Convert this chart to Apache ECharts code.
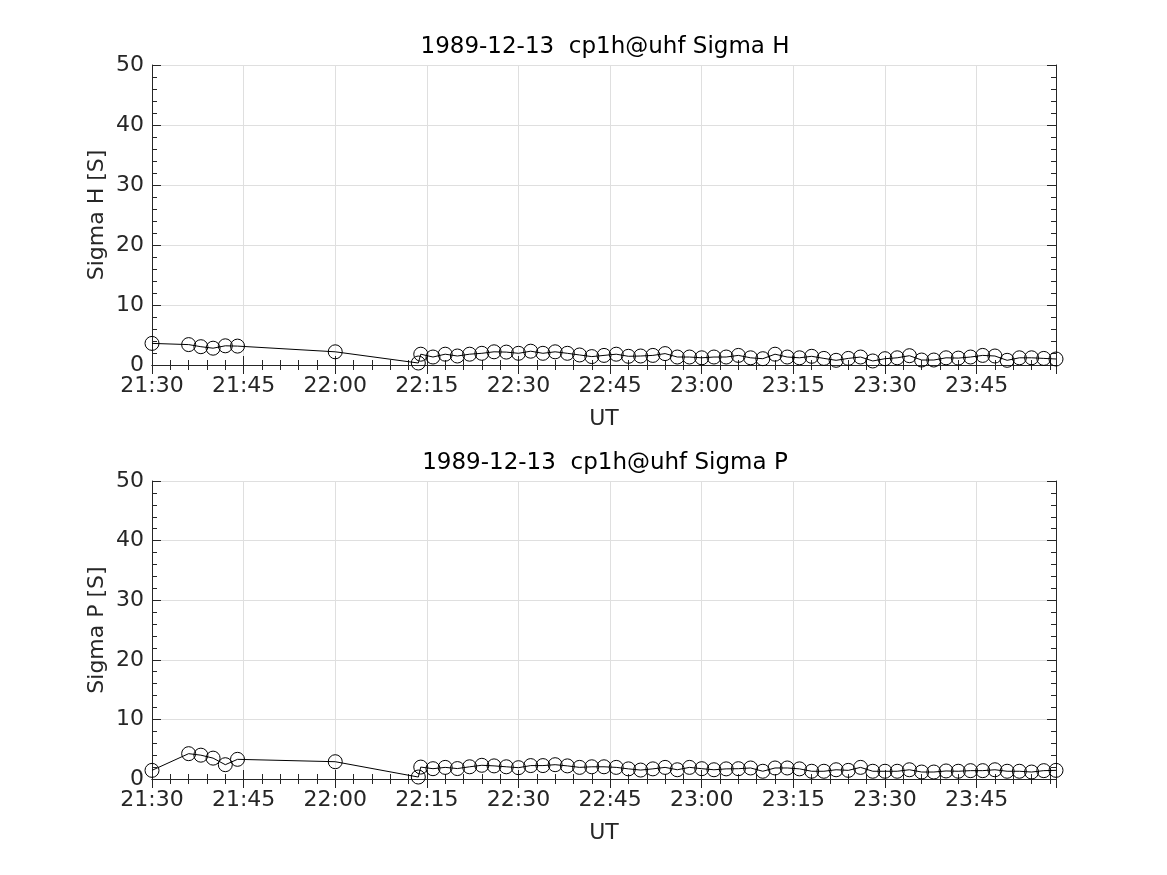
<!DOCTYPE html>
<html>
<head>
<meta charset="utf-8">
<script src="https://cdn.jsdelivr.net/npm/echarts@6/dist/echarts.min.js"></script>
<style>
html,body{margin:0;padding:0;background:#fff;}
#c{width:1167px;height:875px;}
</style>
</head>
<body>
<div id="c"></div>
<script>
// Times (UT) of each measurement
var times = ["21:30","21:36","21:38","21:40","21:42","21:44","22:00","22:13:36",
"22:14","22:16","22:18","22:20","22:22","22:24","22:26","22:28","22:30","22:32","22:34","22:36","22:38","22:40","22:42","22:44","22:46","22:48","22:50","22:52","22:54","22:56","22:58",
"23:00","23:02","23:04","23:06","23:08","23:10","23:12","23:14","23:16","23:18","23:20","23:22","23:24","23:26","23:28","23:30","23:32","23:34","23:36","23:38","23:40","23:42","23:44","23:46","23:48","23:50","23:52","23:54","23:56","23:58"];

var sigmaH = [3.6,3.4,3.05,2.8,3.2,3.15,2.2,0.33,
1.8,1.33,1.8,1.5,1.8,1.95,2.2,2.15,1.95,2.3,1.95,2.2,1.95,1.67,1.4,1.6,1.8,1.45,1.5,1.6,1.9,1.33,1.33,
1.2,1.33,1.33,1.6,1.2,1.05,1.8,1.33,1.2,1.45,1.1,0.78,1.1,1.33,0.67,1.05,1.2,1.55,0.83,0.83,1.2,1.15,1.33,1.6,1.5,0.78,1.2,1.2,1.1,1.0];

var sigmaP = [1.45,4.25,4.0,3.5,2.4,3.3,2.9,0.33,
2.0,1.73,1.95,1.75,2.05,2.3,2.2,2.05,1.9,2.25,2.25,2.4,2.2,1.95,2.05,2.05,1.95,1.7,1.5,1.7,1.95,1.55,1.95,
1.73,1.55,1.7,1.73,1.85,1.3,1.85,1.85,1.7,1.3,1.3,1.55,1.45,1.95,1.3,1.3,1.3,1.55,1.17,1.17,1.35,1.3,1.4,1.4,1.55,1.3,1.3,1.17,1.4,1.45];

var titles = ["1989-12-13  cp1h@uhf Sigma H", "1989-12-13  cp1h@uhf Sigma P"];
var yNames = ["Sigma H [S]", "Sigma P [S]"];
var xName = "UT";
var xMinTime = "21:30", xMaxTime = "23:58";
var xInterval = 15;
var yMin = 0, yMax = 50, yInterval = 10;

function toMin(s){ var p = s.split(":").map(Number); return p[0]*60 + p[1] + (p[2]||0)/60; }
function fmt(v){ var h = Math.floor(v/60), m = Math.round(v - h*60); return h + ":" + (m<10?"0":"") + m; }

var FONT = "DejaVu Sans";
var TXT = "#262626";
var grids = [
  {left:152, right:111, top:65, height:300},
  {left:152, right:111, top:481, height:298}
];

var xAxes = [], yAxes = [], series = [], titleArr = [], graphics = [];
var datasets = [sigmaH, sigmaP];
grids.forEach(function(g, i){
  titleArr.push({text: titles[i], left: 605, textAlign:'center', top: (i===0? 36 : 452), padding:0,
    textStyle:{fontFamily:FONT, fontSize:23, fontWeight:'normal', color:'#000'}});
  graphics.push({type:'text', x:97, y: g.top + g.height/2, rotation: Math.PI/2,
    style:{text: yNames[i], fontFamily:FONT, fontSize:22, fill:TXT, align:'center', verticalAlign:'middle'}});
  var common = {
    type:'value', gridIndex:i, min: toMin(xMinTime), max: toMin(xMaxTime), interval: xInterval,
    axisLine:{show:true, lineStyle:{color:TXT, width:1}},
    axisTick:{show:true, inside:true, length:9, lineStyle:{color:TXT}},
    minorTick:{show:true, splitNumber:5, length:5, lineStyle:{color:TXT}}
  };
  xAxes.push(Object.assign({}, common, {
    position:'bottom', name: xName, nameLocation:'middle', nameGap:43,
    nameTextStyle:{fontFamily:FONT, fontSize:22, color:TXT},
    axisLabel:{show:true, formatter: fmt, fontFamily:FONT, fontSize:22, color:TXT, margin:10, showMaxLabel:false},
    splitLine:{show:true, lineStyle:{color:'#dfdfdf', width:1}}
  }));
  xAxes.push(Object.assign({}, common, {
    position:'top', axisLabel:{show:false}, splitLine:{show:false}
  }));
  var ycommon = {
    type:'value', gridIndex:i, min:yMin, max:yMax, interval:yInterval,
    axisLine:{show:true, lineStyle:{color:TXT, width:1}},
    axisTick:{show:true, inside:true, length:9, lineStyle:{color:TXT}},
    minorTick:{show:true, splitNumber:5, length:5, lineStyle:{color:TXT}}
  };
  yAxes.push(Object.assign({}, ycommon, {
    position:'left',
    axisLabel:{show:true, fontFamily:FONT, fontSize:22, color:TXT, margin:8},
    splitLine:{show:true, lineStyle:{color:'#dfdfdf', width:1}}
  }));
  yAxes.push(Object.assign({}, ycommon, {
    position:'right', axisLabel:{show:false}, splitLine:{show:false}
  }));
  series.push({
    type:'line', xAxisIndex: i*2, yAxisIndex: i*2,
    data: times.map(function(t, k){ return [toMin(t), datasets[i][k]]; }),
    symbol:'circle', symbolSize:14, showAllSymbol:true, clip:false,
    lineStyle:{color:'#000', width:1},
    itemStyle:{color:'rgba(0,0,0,0)', borderColor:'#000', borderWidth:1},
    emphasis:{disabled:true},
    animation:false
  });
});

var chart = echarts.init(document.getElementById('c'), null, {renderer:'canvas'});
chart.setOption({
  backgroundColor:'#fff',
  animation:false,
  title: titleArr,
  grid: grids,
  xAxis: xAxes,
  yAxis: yAxes,
  graphic: graphics,
  series: series
});
</script>
</body>
</html>
